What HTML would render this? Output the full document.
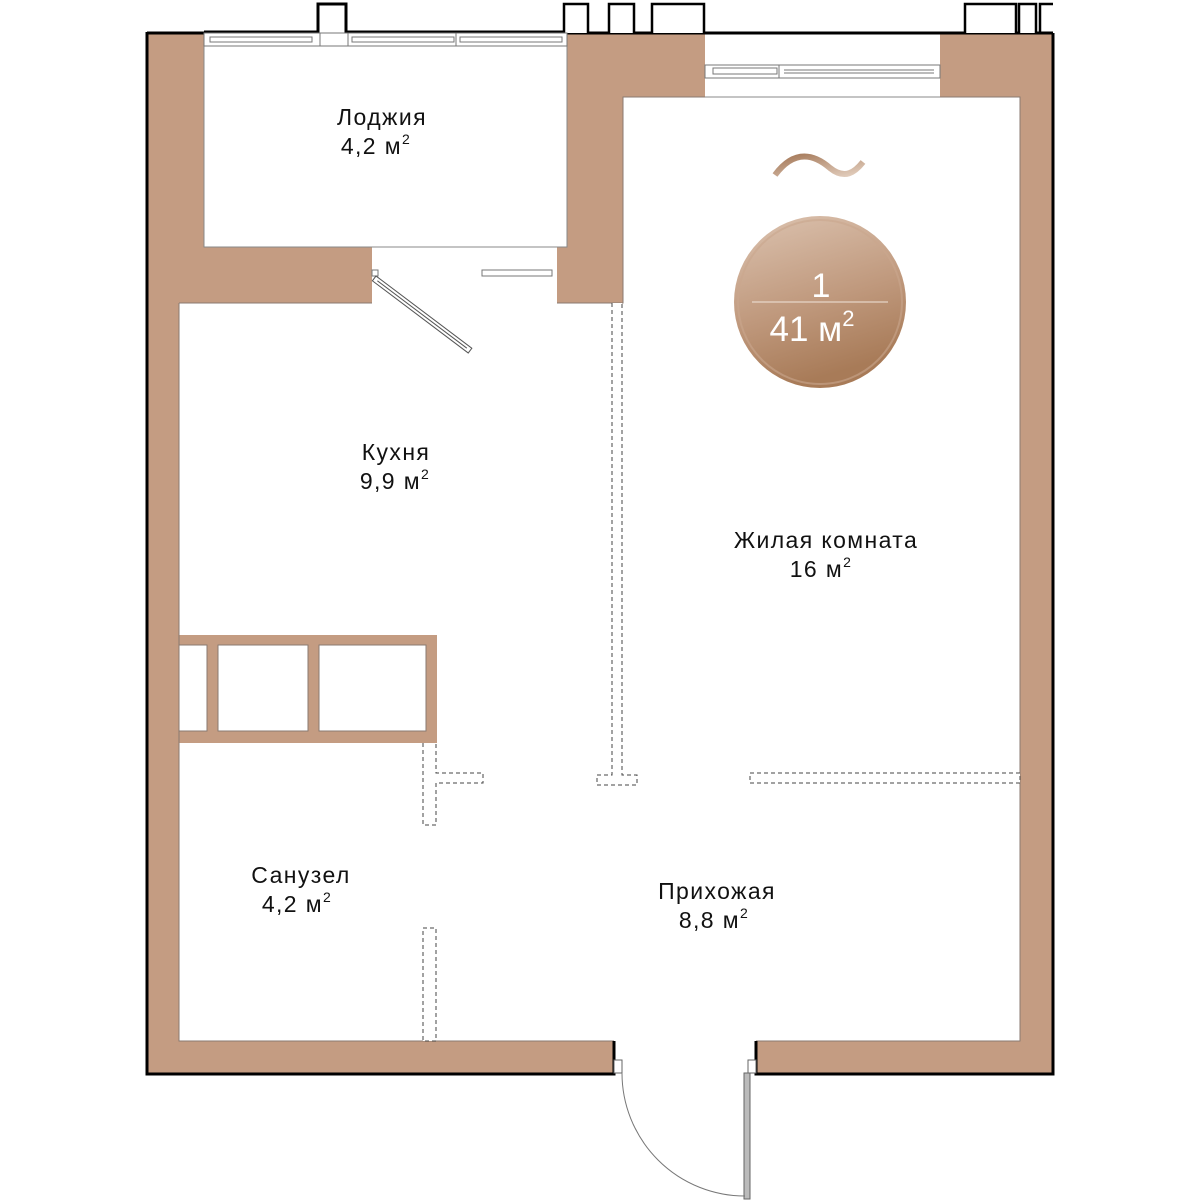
<!DOCTYPE html>
<html><head><meta charset="utf-8"><style>
html,body{margin:0;padding:0;background:#fff}
svg{display:block}
text{font-family:"Liberation Sans",sans-serif;fill:#111}
</style></head><body>
<svg width="1200" height="1200" viewBox="0 0 1200 1200" xmlns="http://www.w3.org/2000/svg">
<defs>
<linearGradient id="g" x1="0" y1="0" x2="0.3" y2="1">
<stop offset="0" stop-color="#dcc3b0"/><stop offset="0.6" stop-color="#bf987c"/><stop offset="1" stop-color="#a87b58"/>
</linearGradient>
<linearGradient id="gr" x1="0" y1="0" x2="1" y2="1">
<stop offset="0" stop-color="#a47858"/><stop offset="1" stop-color="#e4d0c0"/>
</linearGradient>
</defs>
<g fill="#c49c82">
<rect x="148" y="33" width="56" height="270"/>
<rect x="148" y="247" width="224" height="56"/>
<rect x="148" y="303" width="31" height="770"/>
<rect x="148" y="1041" width="466" height="32"/>
<rect x="557" y="33" width="66" height="270"/>
<rect x="567" y="33" width="138" height="64"/>
<rect x="940" y="33" width="113" height="64"/>
<rect x="1020" y="97" width="33" height="976"/>
<rect x="756" y="1041" width="297" height="32"/>
<rect x="179" y="635" width="258" height="108"/>
</g>
<g fill="#fff" stroke="#8a7a70" stroke-width="1">
<rect x="179" y="645" width="28" height="86"/>
<rect x="218" y="645" width="90" height="86"/>
<rect x="319" y="645" width="107" height="86"/>
<rect x="204" y="46" width="363" height="201" stroke="#888"/>
</g>
<path d="M179 303 H372 M557 303 H623 V97 H1020 V1041 H756 M614 1041 H179 V303" fill="none" stroke="#8a7a70" stroke-width="1"/>
<g stroke="#000" stroke-width="3" fill="none">
<path d="M147 33 H204"/>
<path d="M147 32 V1074 H614 V1041"/>
<path d="M756 1041 V1074 H1053 V33"/>
<path d="M567 33 H1053"/>
<path d="M204 32 H318 V4 H346 V32 H567"/>
</g>
<g stroke="#000" stroke-width="2.5" fill="#fff">
<path d="M564 33 V4 H588 V33"/>
<path d="M609 33 V4 H634 V33"/>
<path d="M652 33 V4 H704 V33"/>
<path d="M965 33 V4 H1016 V33"/>
<path d="M1019 33 V4 H1036 V33"/>
<path d="M1040 33 V4 H1053"/>
</g>
<g fill="#fff" stroke="#777" stroke-width="1">
<rect x="204" y="33" width="363" height="13"/>
<rect x="210" y="37" width="102" height="5"/>
<rect x="352" y="37" width="102" height="5"/>
<rect x="460" y="37" width="102" height="5"/>
<line x1="320" y1="33" x2="320" y2="46"/><line x1="348" y1="33" x2="348" y2="46"/>
<line x1="456" y1="33" x2="456" y2="46"/>
<rect x="705" y="65" width="235" height="13"/>
<rect x="713" y="68" width="64" height="6"/>
<line x1="784" y1="70" x2="934" y2="70"/><line x1="784" y1="73" x2="934" y2="73"/>
<line x1="779" y1="65" x2="779" y2="78"/>
<rect x="482" y="270" width="70" height="6"/>
<rect x="372" y="270" width="6" height="6"/>
</g>
<line x1="705" y1="97" x2="940" y2="97" stroke="#888"/>
<g transform="translate(376 276) rotate(37)" fill="#fff" stroke="#555" stroke-width="1">
<rect x="0" y="0" width="120" height="6"/>
<line x1="4" y1="3" x2="116" y2="3"/>
</g>
<g fill="#fff" stroke="#444" stroke-width="1" stroke-dasharray="4 3">
<path d="M612 303 V775 H597 V785 H637 V775 H622 V303"/>
<path d="M750 773 H1020 V783 H750 Z"/>
<path d="M423 743 V825 H436 V783 H483 V773 H436 V743"/>
<rect x="423" y="928" width="13" height="113"/>
</g>
<rect x="744" y="1073" width="6" height="126" fill="#bbb" stroke="#666"/>
<rect x="614" y="1060" width="8" height="13" fill="#fff" stroke="#666"/>
<rect x="748" y="1060" width="8" height="13" fill="#fff" stroke="#666"/>
<path d="M622 1073 A123 123 0 0 0 745 1196" fill="none" stroke="#777" stroke-width="1"/>
<path d="M775 175 C795 148 815 155 830 168 C845 180 855 172 863 162" fill="none" stroke="url(#gr)" stroke-width="6"/>
<circle cx="820" cy="302" r="86" fill="url(#g)"/>
<circle cx="820" cy="302" r="82" fill="none" stroke="#c9a68d" stroke-width="2" opacity="0.6"/>
<line x1="752" y1="302" x2="888" y2="302" stroke="#f0e4da" stroke-width="1"/>
<text x="821" y="297" text-anchor="middle" font-size="34" style="fill:#fff">1</text>
<text x="812" y="341" text-anchor="middle" font-size="35" style="fill:#fff">41 м<tspan font-size="22" dy="-15">2</tspan></text>
<g font-size="23" text-anchor="middle" letter-spacing="1.4">
<text x="382" y="125">Лоджия</text>
<text x="376" y="154">4,2 м<tspan font-size="14" dy="-10">2</tspan></text>
<text x="396" y="460">Кухня</text>
<text x="395" y="489">9,9 м<tspan font-size="14" dy="-10">2</tspan></text>
<text x="826" y="548">Жилая комната</text>
<text x="821" y="577">16 м<tspan font-size="14" dy="-10">2</tspan></text>
<text x="301" y="883">Санузел</text>
<text x="297" y="912">4,2 м<tspan font-size="14" dy="-10">2</tspan></text>
<text x="717" y="899">Прихожая</text>
<text x="714" y="928">8,8 м<tspan font-size="14" dy="-10">2</tspan></text>
</g>
</svg>
</body></html>
